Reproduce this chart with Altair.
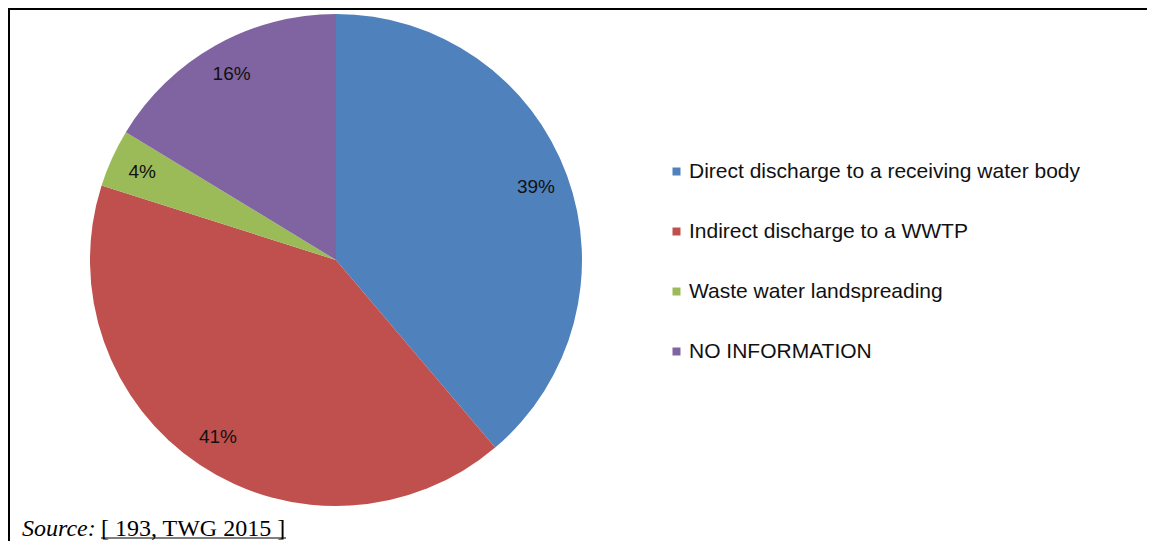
import altair as alt
import pandas as pd

categories = [
    "Direct discharge to a receiving water body",
    "Indirect discharge to a WWTP",
    "Waste water landspreading",
    "NO INFORMATION",
]
values = [38.8, 41.1, 3.8, 16.3]
labels = ["39%", "41%", "4%", "16%"]
colors = ["#4F81BD", "#C0504D", "#9BBB59", "#8064A2"]

df = pd.DataFrame({
    "category": categories,
    "value": values,
    "label": labels,
    "order": list(range(len(categories))),
})

W, H = 1139, 533
CX, CY = 328, 252

base = alt.Chart(df).encode(
    theta=alt.Theta("value:Q", stack=True),
    order=alt.Order("order:Q"),
    x=alt.value(CX),
    y=alt.value(CY),
)

pie = base.mark_arc(outerRadius=246, stroke=None).encode(
    color=alt.Color(
        "category:N",
        scale=alt.Scale(domain=categories, range=colors),
        sort=categories,
        legend=alt.Legend(
            title=None,
            orient="none",
            legendX=658,
            legendY=153,
            symbolType="square",
            symbolSize=64,
            symbolStrokeWidth=0,
            labelFont="Liberation Sans",
            labelFontSize=21,
            labelColor="#111111",
            labelLimit=600,
            labelOffset=2,
            rowPadding=38,
        ),
    )
)

text = base.mark_text(
    radius=213, font="Liberation Sans", fontSize=19, color="#111111"
).encode(text="label:N")

frame_df = pd.DataFrame({"k": [0]})
top_line = alt.Chart(frame_df).mark_rule(color="black", strokeWidth=2).encode(
    x=alt.value(0), x2=alt.value(W), y=alt.value(1)
)
left_line = alt.Chart(frame_df).mark_rule(color="black", strokeWidth=2).encode(
    x=alt.value(1), y=alt.value(0), y2=alt.value(H)
)

src_df = pd.DataFrame({"a": ["Source:"], "b": ["[ 193, TWG 2015 ]"]})
src1 = alt.Chart(src_df).mark_text(
    font="Liberation Serif", fontSize=24, fontStyle="italic", align="left",
    baseline="alphabetic", color="black"
).encode(text="a:N", x=alt.value(14), y=alt.value(528))
src2 = alt.Chart(src_df).mark_text(
    font="Liberation Serif", fontSize=24, align="left",
    baseline="alphabetic", color="black"
).encode(text="b:N", x=alt.value(93), y=alt.value(528))
underline = alt.Chart(frame_df).mark_rule(color="black", strokeWidth=1.2).encode(
    x=alt.value(93), x2=alt.value(278), y=alt.value(530)
)

chart = alt.layer(pie, text, top_line, left_line, src1, src2, underline).properties(
    width=W, height=H, autosize=alt.AutoSizeParams(type="none"), padding=0
).configure_view(strokeWidth=0).configure(background="white")

chart.save("out.html", embed_options={"renderer": "svg", "actions": False})
